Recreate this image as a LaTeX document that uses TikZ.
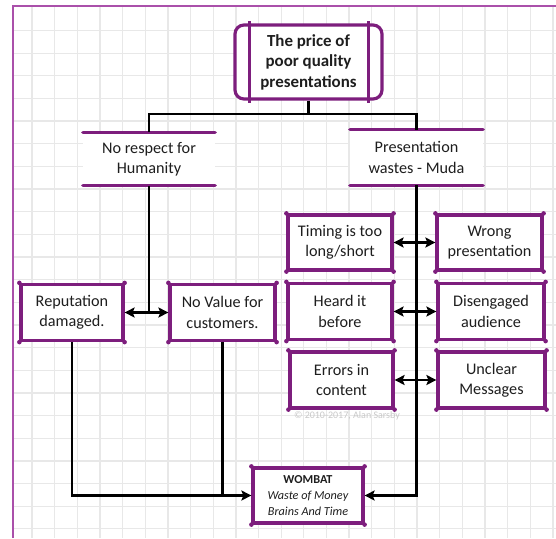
\documentclass[tikz,border=0pt]{standalone}
\usepackage{fontspec}
\setmainfont{Carlito}
\usetikzlibrary{arrows.meta,calc}
\definecolor{purp}{RGB}{125,30,125}
\definecolor{bord}{RGB}{170,80,170}
\definecolor{gridc}{RGB}{232,232,232}
\definecolor{txt}{RGB}{30,30,30}
\definecolor{copyc}{RGB}{200,200,200}
\tikzset{
  box/.style={draw=purp, line width=3.2pt, fill=white, align=center, text=txt, inner sep=2pt,
    font=\fontsize{16.2}{20.3}\selectfont},
  openbox/.style={fill=white, align=center, text=txt, inner sep=2pt,
    font=\fontsize{16.2}{20.3}\selectfont},
  conn/.style={draw=black, line width=2.2pt},
  tip/.style={-{Stealth[length=10pt,width=10pt,inset=2pt]}},
  dtip/.style={{Stealth[length=10pt,width=10pt,inset=2pt]}-{Stealth[length=10pt,width=10pt,inset=2pt]}},
}
\begin{document}
\begin{tikzpicture}[x=1pt,y=-1pt]
\useasboundingbox (0,0) rectangle (556,538);
% background grid
\foreach \i in {0,...,23} \draw[gridc, line width=1.3pt] (32+\i*22.65,6) -- (32+\i*22.65,538);
\foreach \j in {0,...,22} \draw[gridc, line width=1.3pt] (13,30.5+\j*22.65) -- (556,30.5+\j*22.65);
\draw[bord, line width=1.2pt] (13,538) -- (13,6) -- (556,6);

% nodes
\node[box, rounded corners=9pt, minimum width=147pt, minimum height=74pt,
  font=\fontsize{16.9}{20.5}\selectfont\bfseries] (title) at (308.5,62) {The price of\\poor quality\\presentations};
\draw[purp, line width=3.2pt] ($(title.north west)+(16,-2)$) -- ($(title.south west)+(16,2)$);
\draw[purp, line width=3.2pt] ($(title.north east)+(-15,-2)$) -- ($(title.south east)+(-15,2)$);

\node[openbox, minimum width=132pt, minimum height=53pt] (noresp) at (149,159) {No respect for\\Humanity};
\node[openbox, minimum width=133pt, minimum height=55pt] (waste) at (416.5,157.5) {Presentation\\wastes - Muda};
\foreach \n in {noresp,waste}{
  \draw[purp, line width=3.2pt, line cap=round] (\n.north west) -- (\n.north east);
  \draw[purp, line width=3.2pt, line cap=round] (\n.south west) -- (\n.south east);
}

\node[box, minimum width=102pt, minimum height=56pt] (rep) at (72,312.5) {Reputation\\damaged.};
\node[box, minimum width=105pt, minimum height=56pt] (noval) at (222.5,312.5) {No Value for\\customers.};

\node[box, minimum width=104pt, minimum height=55pt] (timing) at (340,242.5) {Timing is too\\long/short};
\node[box, minimum width=105pt, minimum height=55pt] (wrong) at (489.5,242.5) {Wrong\\presentation};
\node[box, minimum width=104pt, minimum height=56pt] (heard) at (340,311.5) {Heard it\\before};
\node[box, minimum width=106pt, minimum height=56pt] (diseng) at (491,311.5) {Disengaged\\audience};
\node[box, minimum width=103pt, minimum height=56pt] (errors) at (341.5,380) {Errors in\\content};
\node[box, minimum width=107pt, minimum height=56pt] (unclear) at (491.5,380) {Unclear\\Messages};

\node[box, minimum width=110pt, minimum height=55pt, font=\fontsize{12.2}{16}\selectfont] (wombat) at (308,495.5)
  {\textbf{WOMBAT}\\\textit{Waste of Money}\\\textit{Brains And Time}};

\foreach \n in {rep,noval,timing,wrong,heard,diseng,errors,unclear,wombat}{
  \foreach \c in {north west,north east,south west,south east}
    \fill[purp] (\n.\c) circle (2.3pt);
}

\node[text=copyc, font=\fontsize{10}{11}\selectfont] (copy) at (347,416) {© 2010-2017, Alan Sarsby};

% connectors
\coordinate (j1) at (308.5,114);
\draw[conn] (title.south) -- (j1);
\draw[conn] (j1) -| (noresp.north);
\draw[conn] (j1) -| (waste.north);

\coordinate (j2) at (149,312.5);
\draw[conn] (noresp.south) -- (j2);
\draw[conn, dtip] (rep.east) -- (noval.west);

\draw[conn, tip] (waste.south) |- (wombat.east);
\draw[conn, dtip] (timing.east) -- (wrong.west);
\draw[conn, dtip] (heard.east) -- (diseng.west);
\draw[conn, dtip] (errors.east) -- (unclear.west);

\draw[conn, tip] (rep.south) |- (wombat.west);
\draw[conn] (noval.south) -- (noval.south |- wombat.west);
\end{tikzpicture}
\end{document}
